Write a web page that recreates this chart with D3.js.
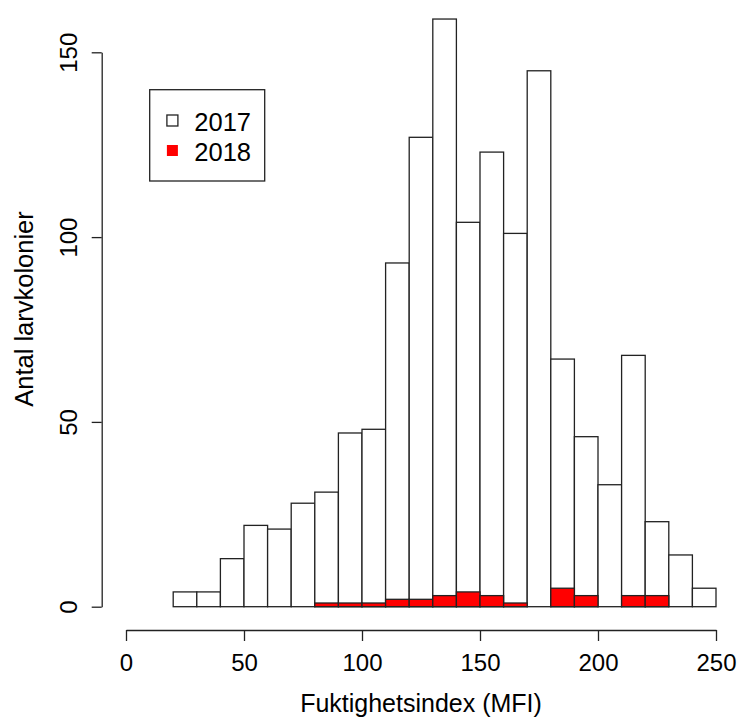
<!DOCTYPE html>
<html>
<head>
<meta charset="utf-8">
<script src="https://cdn.jsdelivr.net/npm/d3@7"></script>
<style>
  html, body { margin: 0; padding: 0; background: #fff; }
  svg { display: block; font-family: "Liberation Sans", Arial, sans-serif; }
</style>
</head>
<body>
<svg id="chart" width="738" height="717"></svg>
<script>
// Histogram bins (MFI, width 10) and colony counts per year
const binStarts2017 = [20, 30, 40, 50, 60, 70, 80, 90, 100, 110, 120, 130, 140, 150, 160, 170, 180, 190, 200, 210, 220, 230, 240];
const counts2017    = [4, 4, 13, 22, 21, 28, 31, 47, 48, 93, 127, 159, 104, 123, 101, 145, 67, 46, 33, 68, 23, 14, 5];
const binStarts2018 = [80, 90, 100, 110, 120, 130, 140, 150, 160, 170, 180, 190, 200, 210, 220];
const counts2018    = [1, 1, 1, 2, 2, 3, 4, 3, 1, 0, 5, 3, 0, 3, 3];
const binWidth = 10;
const xTicks = [0, 50, 100, 150, 200, 250];
const yTicks = [0, 50, 100, 150];
const legendYears = ["2017", "2018"];
const xTitle = "Fuktighetsindex (MFI)";
const yTitle = "Antal larvkolonier";

const svg = d3.select("#chart");
const x = d3.scaleLinear().domain([0, 250]).range([126, 716]);
const y = d3.scaleLinear().domain([0, 150]).range([606.7, 52.3]);

const lineCol = "#222";
const lineW = 1.3;

function drawBars(starts, counts, fill) {
  svg.append("g").selectAll("rect")
    .data(starts.map((s, i) => ({ s, c: counts[i] })))
    .join("rect")
    .attr("x", d => x(d.s))
    .attr("width", d => x(d.s + binWidth) - x(d.s))
    .attr("y", d => y(d.c))
    .attr("height", d => y(0) - y(d.c))
    .attr("fill", fill)
    .attr("stroke", lineCol)
    .attr("stroke-width", lineW);
}
drawBars(binStarts2017, counts2017, "#fff");
drawBars(binStarts2018, counts2018, "#ff0000");

// X axis, offset below the bars
const xAxis = svg.append("g")
  .attr("transform", "translate(0,630)")
  .call(d3.axisBottom(x).tickValues(xTicks).tickSize(11).tickSizeOuter(0));
xAxis.selectAll("path, line").attr("stroke", lineCol).attr("stroke-width", lineW);
xAxis.selectAll("text")
  .attr("y", 40.5).attr("dy", 0)
  .attr("fill", "#000")
  .style("font-size", "24px")
  .style("font-family", "'Liberation Sans', Arial, sans-serif");

// Y axis with rotated tick labels
const yAxis = svg.append("g")
  .attr("transform", "translate(101.7,0)")
  .call(d3.axisLeft(y).tickValues(yTicks).tickSize(10).tickSizeOuter(0));
yAxis.selectAll("path, line").attr("stroke", lineCol).attr("stroke-width", lineW);
yAxis.selectAll("text")
  .attr("x", 0).attr("y", 0).attr("dy", 0)
  .attr("transform", "translate(-24.4,0) rotate(-90)")
  .attr("text-anchor", "middle")
  .attr("fill", "#000")
  .style("font-size", "24px")
  .style("font-family", "'Liberation Sans', Arial, sans-serif");

// Axis titles
svg.append("text")
  .attr("x", x(125)).attr("y", 712)
  .attr("text-anchor", "middle")
  .style("font-size", "25px")
  .text(xTitle);
svg.append("text")
  .attr("transform", "translate(33,309) rotate(-90)")
  .attr("text-anchor", "middle")
  .style("font-size", "25.5px")
  .text(yTitle);

// Legend
const legend = svg.append("g");
legend.append("rect")
  .attr("x", 149.7).attr("y", 89.7)
  .attr("width", 115).attr("height", 91.3)
  .attr("fill", "#fff")
  .attr("stroke", lineCol).attr("stroke-width", lineW);
const sq = 11;
legendYears.forEach((yr, i) => {
  const cy = 120.5 + i * 30;
  legend.append("rect")
    .attr("x", 172.4 - sq / 2).attr("y", cy - sq / 2)
    .attr("width", sq).attr("height", sq)
    .attr("fill", i === 0 ? "#fff" : "#ff0000")
    .attr("stroke", i === 0 ? lineCol : "none")
    .attr("stroke-width", lineW);
  legend.append("text")
    .attr("x", 194.3).attr("y", cy + 10)
    .style("font-size", "25.5px")
    .text(yr);
});
</script>
</body>
</html>
